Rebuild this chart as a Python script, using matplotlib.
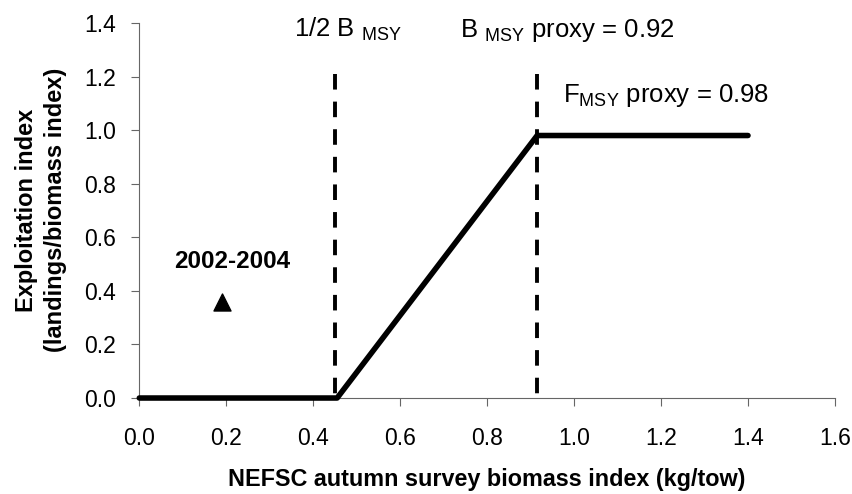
import matplotlib
matplotlib.use("Agg")
import matplotlib.pyplot as plt
from matplotlib.ticker import FormatStrFormatter

plt.rcParams['font.family'] = ['Liberation Sans', 'DejaVu Sans']
plt.rcParams['mathtext.fontset'] = 'custom'
plt.rcParams['mathtext.rm'] = 'Liberation Sans'
plt.rcParams['mathtext.it'] = 'Liberation Sans'

# harvest control rule
rule_x = [0.0, 0.455, 0.915, 1.4]
rule_y = [0.0, 0.0, 0.98, 0.98]

# reference points (dashed lines)
ref_x = [0.45, 0.915]
dash_top = 1.21

# observed 2002-2004
obs_x = [0.19]
obs_y = [0.36]

xticks = [0.0, 0.2, 0.4, 0.6, 0.8, 1.0, 1.2, 1.4, 1.6]
yticks = [0.0, 0.2, 0.4, 0.6, 0.8, 1.0, 1.2, 1.4]

fig = plt.figure(figsize=(8.52, 4.94), dpi=100)
ax = fig.add_axes([0.1635, 0.1943, 0.8165, 0.7591])

ax.plot(rule_x, rule_y, color="black", lw=4, solid_capstyle="round", clip_on=False, zorder=3)
for xr in ref_x:
    # drawn top-down so the dash pattern starts at the top
    ax.plot([xr, xr], [dash_top, 0], color="black", lw=2.8, ls=(0, (4.0, 3.1)), clip_on=False)
ax.scatter(obs_x, obs_y, marker="^", s=150, color="black", zorder=3)

ax.text(0.355, 1.348, "1/2 B $_{MSY}$", fontsize=18.5, ha="left", va="baseline")
ax.text(0.737, 1.348, "B $_{MSY}$ proxy = 0.92", fontsize=18.5, ha="left", va="baseline")
ax.text(0.974, 1.104, "F$_{MSY}$ proxy = 0.98", fontsize=18.5, ha="left", va="baseline")
ax.text(0.213, 0.487, "2002-2004", fontsize=17.5, fontweight="bold", ha="center", va="baseline")

ax.set_xlim(0, 1.6)
ax.set_ylim(0, 1.4)
ax.set_xticks(xticks)
ax.set_yticks(yticks)
ax.xaxis.set_major_formatter(FormatStrFormatter("%.1f"))
ax.yaxis.set_major_formatter(FormatStrFormatter("%.1f"))
ax.tick_params(labelsize=16.5, direction="out", length=6, color="#666666")
ax.tick_params(axis="x", pad=15)
ax.tick_params(axis="y", pad=11)
ax.spines["top"].set_visible(False)
ax.spines["right"].set_visible(False)
ax.spines["left"].set_color("#666666")
ax.spines["bottom"].set_color("#666666")

fig.text(0.571, 0.030, "NEFSC autumn survey biomass index (kg/tow)", fontsize=16.8,
         fontweight="bold", ha="center", va="center")
fig.text(0.048, 0.575, "Exploitation index\n(landings/biomass index)", fontsize=17,
         fontweight="bold", ha="center", va="center", rotation=90,
         multialignment="center", linespacing=1.35)

fig.savefig("out.png", dpi=100)
